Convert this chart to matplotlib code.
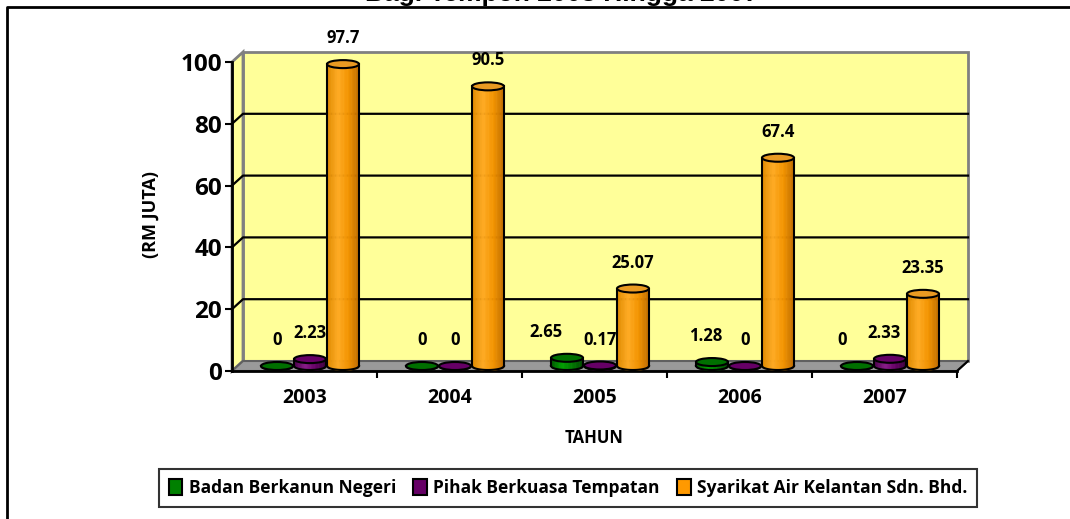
import numpy as np
import matplotlib
matplotlib.use("Agg")
import matplotlib.pyplot as plt
from matplotlib.patches import Polygon, Ellipse, Patch
from matplotlib.colors import LinearSegmentedColormap
from matplotlib.lines import Line2D

# data (RM juta)
years = ["2003", "2004", "2005", "2006", "2007"]
badan_berkanun = [0, 0, 2.65, 1.28, 0]
pihak_berkuasa = [2.23, 0, 0.17, 0, 2.33]
syarikat_air = [97.7, 90.5, 25.07, 67.4, 23.35]
series_names = ["Badan Berkanun Negeri", "Pihak Berkuasa Tempatan",
                "Syarikat Air Kelantan Sdn. Bhd."]
yticks = [0, 20, 40, 60, 80, 100]

series = [badan_berkanun, pihak_berkuasa, syarikat_air]
base_colors = ["#008000", "#660066", "#FF9900"]
top_colors = ["#007000", "#660066", "#E99A22"]
shades = [
    ["#005A00", "#00A000", "#007A00", "#004A00"],
    ["#4A004A", "#8A1A8A", "#660066", "#3A003A"],
    ["#E08A00", "#FFAA22", "#F39300", "#C06C00"],
]

plt.rcParams["font.family"] = ["Open Sans", "DejaVu Sans"]
plt.rcParams["font.weight"] = "bold"

W, H = 1070, 519
fig = plt.figure(figsize=(W / 100, H / 100), dpi=100)
ax = fig.add_axes([232 / W, 1 - 371 / H, 725 / W, 309 / H])
x0, x1 = -0.5, len(years) - 0.5
ax.set_xlim(x0, x1)
ax.set_ylim(0, 100)

# depth of the fake 3d box, in data units
DX = 11 / 145
DY = 10 / 3.09
EH = 8 / 3.09      # ellipse height of the cylinder caps
BW = 32 / 145      # cylinder width
STEP = 33 / 145    # spacing of cylinders within a year

wall = "#FFFF99"
ax.add_patch(Polygon([(x0 + DX, DY), (x1 + DX, DY), (x1 + DX, 100 + DY), (x0 + DX, 100 + DY)],
                     fc=wall, ec="#808080", lw=2, clip_on=False, zorder=0))
ax.add_patch(Polygon([(x0, 0), (x0 + DX, DY), (x0 + DX, 100 + DY), (x0, 100)],
                     fc=wall, ec="#808080", lw=2, clip_on=False, zorder=0))
ax.add_patch(Polygon([(x0, 0), (x1, 0), (x1 + DX, DY), (x0 + DX, DY)],
                     fc="#9A9A9A", ec="#606060", lw=1.5, clip_on=False, zorder=0.5))
ax.plot([x1, x1 + DX], [0, DY], color="black", lw=1.5, clip_on=False, zorder=0.6)
for t in yticks[1:-1]:
    ax.plot([x0, x0 + DX, x1 + DX], [t, t + DY, t + DY], color="black", lw=1.6,
            clip_on=False, zorder=0.6)


def cylinder(xc, h, cmap, top_color, z):
    base = DY / 2
    xs = np.linspace(xc - BW / 2, xc + BW / 2, 41)
    u = (xs - xc) / (BW / 2)
    ybot = base - EH / 2 * np.sqrt(np.clip(1 - u ** 2, 0, 1))
    n = len(xs) - 1
    for i in range(n):
        c = cmap(i / (n - 1))
        ax.fill_between(xs[i:i + 2], ybot[i:i + 2], base + h, color=c, ec=c, lw=0.4,
                        clip_on=False, zorder=z)
    ax.plot(xs, ybot, color="black", lw=1.5, clip_on=False, zorder=z + 0.001)
    ax.plot([xs[0], xs[0]], [base, base + h], color="black", lw=1.5, clip_on=False, zorder=z + 0.001)
    ax.plot([xs[-1], xs[-1]], [base, base + h], color="black", lw=1.5, clip_on=False, zorder=z + 0.001)
    ax.add_patch(Ellipse((xc, base + h), BW, EH, fc=top_color, ec="black", lw=1.5,
                         clip_on=False, zorder=z + 0.002))
    return base + h


# a few labels were moved sideways in the original (pixels)
label_nudge = {(2, 0): -21, (4, 0): -15, (4, 1): -6, (3, 0): -6}

z = 2
for j, year in enumerate(years):
    for k, vals in enumerate(series):
        cmap = LinearSegmentedColormap.from_list("s%d" % k, shades[k])
        xc = j + DX / 2 + (k - 1) * STEP
        top = cylinder(xc, vals[j], cmap, top_colors[k], z)
        z += 0.01
        dx = label_nudge.get((j, k), 0) * 0.72
        ax.annotate("{:g}".format(vals[j]), (xc, top), xytext=(dx, 18.7),
                    textcoords="offset points", ha="center", va="center",
                    fontsize=12, fontweight="bold", zorder=10, annotation_clip=False)

for side in ["top", "right"]:
    ax.spines[side].set_visible(False)
for side in ["left", "bottom"]:
    ax.spines[side].set_linewidth(2)
    ax.spines[side].set_zorder(1)
ax.set_facecolor("none")

ax.set_yticks(yticks)
ax.set_yticklabels([str(t) for t in yticks])
ax.tick_params(axis="y", direction="out", length=5, width=1.5, pad=2, labelsize=17.5)
ax.set_xticks(np.arange(len(years)) + 0.5)
ax.set_xticklabels([])
ax.set_xticks(np.arange(len(years)), minor=True)
ax.set_xticklabels(years, minor=True)
ax.tick_params(axis="x", which="major", direction="out", length=5, width=1.5)
ax.tick_params(axis="x", which="minor", length=0, pad=12, labelsize=14)

fig.text(151 / W, 1 - 214 / H, "(RM JUTA)", rotation=90, ha="center", va="center",
         fontsize=13, fontweight="bold")
fig.text(594 / W, 1 - 438 / H, "TAHUN", ha="center", va="center",
         fontsize=12, fontweight="bold")

# title sits mostly above the crop
fig.text(562 / W, 1 - 1.5 / H, "Bagi Tempoh 2003 Hingga 2007", ha="center", va="baseline",
         fontsize=19, fontweight="bold", family=["Liberation Sans", "DejaVu Sans"])

# outer chart frame (right and bottom are outside the picture)
fig.add_artist(Line2D([7 / W, 7 / W, 1.01], [-0.01, 1 - 7 / H, 1 - 7 / H],
                      transform=fig.transFigure, color="black", lw=2))

handles = [Patch(fc=c, ec="black", lw=1.5) for c in base_colors]
leg = fig.legend(handles, series_names, loc="center", bbox_to_anchor=(568 / W, 1 - 488 / H),
                 ncol=3, fontsize=12.5, frameon=True, fancybox=False, edgecolor="black",
                 handlelength=0.8, handleheight=1.0, handletextpad=0.35, columnspacing=1.0,
                 borderpad=0.55)
leg.get_frame().set_linewidth(1.5)
for t in leg.get_texts():
    t.set_fontweight("bold")

fig.savefig("out.png", dpi=100)
